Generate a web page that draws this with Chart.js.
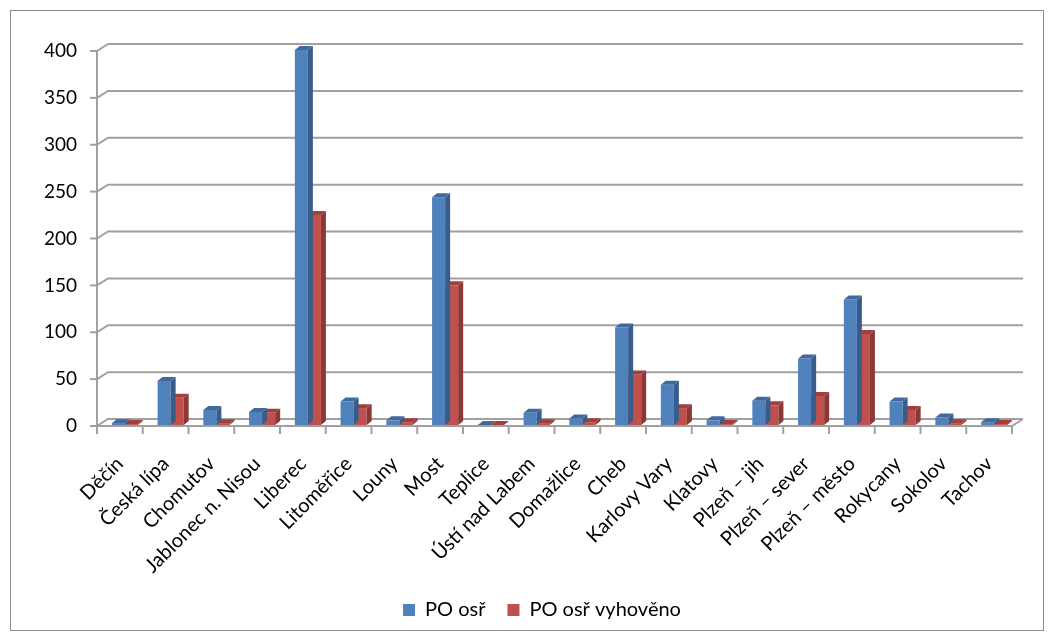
<!DOCTYPE html>
<html><head><meta charset="utf-8">
<script src="https://cdn.jsdelivr.net/npm/chart.js@4"></script>
<style>html,body{margin:0;padding:0;background:#fff}#w{width:1054px;height:639px}</style>
</head><body><div id="w"><canvas id="c" width="1054" height="639"></canvas></div>
<script>
const categories = ["Děčín","Česká lípa","Chomutov","Jablonec n. Nisou","Liberec","Litoměřice","Louny","Most","Teplice","Ústí nad Labem","Domažlice","Cheb","Karlovy Vary","Klatovy","Plzeň – jih","Plzeň – sever","Plzeň – město","Rokycany","Sokolov","Tachov"];
const poOsr =        [2, 47, 16, 14, 400, 25, 5, 243, 0, 13, 7, 104, 43, 5, 26, 71, 134, 25, 8, 3];
const poOsrVyhoveno =[1, 29, 2, 13, 224, 18, 3, 149, 0, 2, 3, 54, 18, 1, 21, 31, 97, 16, 2, 1];
const yTicks = [0,50,100,150,200,250,300,350,400];

const DX = 11, DY = 7;
const deco = {
  id:'deco',
  afterLayout(chart){
    const lg = chart.legend;
    if(lg){ lg.left += 36; lg.right += 36; }
  },
  beforeDraw(chart){
    const ctx = chart.ctx;
    ctx.save();
    ctx.fillStyle='#fff'; ctx.fillRect(0,0,chart.width,chart.height);
    ctx.strokeStyle='#8c8c8c'; ctx.lineWidth=1;
    ctx.strokeRect(10.5,10.5,1033,620);
    const y = chart.scales.y, x = chart.scales.x;
    const L = x.left, R = x.right;
    ctx.strokeStyle='#a0a0a0'; ctx.lineWidth=2;
    yTicks.forEach(v=>{
      const py = y.getPixelForValue(v);
      ctx.beginPath();
      ctx.moveTo(L, py); ctx.lineTo(L+DX, py-DY); ctx.lineTo(R+DX, py-DY);
      ctx.stroke();
    });
    const p0 = y.getPixelForValue(0);
    ctx.beginPath(); ctx.moveTo(L,p0); ctx.lineTo(R,p0); ctx.lineTo(R+DX,p0-DY); ctx.stroke();
    ctx.beginPath(); ctx.moveTo(L, y.getPixelForValue(400)); ctx.lineTo(L, p0); ctx.stroke();
    yTicks.forEach(v=>{ const py=y.getPixelForValue(v); ctx.beginPath(); ctx.moveTo(L-7,py); ctx.lineTo(L,py); ctx.stroke(); });
    const n = categories.length, cw = (R-L)/n;
    for(let i=0;i<=n;i++){ const px=L+i*cw; ctx.beginPath(); ctx.moveTo(px,p0); ctx.lineTo(px,p0+8); ctx.stroke(); }
    ctx.restore();
  },
  beforeDatasetsDraw(chart){ chart.ctx.save(); chart.ctx.translate(5,-1); },
  afterDatasetDraw(chart, args){
    const ctx = chart.ctx;
    const meta = args.meta;
    const side = args.index===0 ? '#385d8a' : '#8c3836';
    const top = args.index===0 ? '#41699b' : '#a23f3c';
    const d=5, e=4;
    meta.data.forEach(b=>{
      const {x,y,base,width} = b.getProps(['x','y','base','width'],true);
      const l=x-width/2, r=x+width/2;
      ctx.fillStyle=side;
      ctx.beginPath(); ctx.moveTo(r,y); ctx.lineTo(r+d,y-e); ctx.lineTo(r+d,base-e); ctx.lineTo(r,base); ctx.closePath(); ctx.fill();
      ctx.fillStyle=top;
      ctx.beginPath(); ctx.moveTo(l,y); ctx.lineTo(r,y); ctx.lineTo(r+d,y-e); ctx.lineTo(l+d,y-e); ctx.closePath(); ctx.fill();
    });
  },
  afterDatasetsDraw(chart){ chart.ctx.restore(); }
};

new Chart(document.getElementById('c'),{
  type:'bar',
  data:{labels:categories,datasets:[
    {label:'PO osř',data:poOsr,backgroundColor:'#4f81bd',categoryPercentage:0.57,barPercentage:1},
    {label:'PO osř vyhověno',data:poOsrVyhoveno,backgroundColor:'#c0504d',categoryPercentage:0.57,barPercentage:1}
  ]},
  options:{
    responsive:false,animation:false,
    layout:{padding:{left:0,top:51,right:42,bottom:9}},
    plugins:{
      legend:{position:'bottom',labels:{boxWidth:12,boxHeight:12,padding:22,font:{family:'Lato',size:20},color:'#000'}},
      tooltip:{enabled:false}
    },
    scales:{
      x:{grid:{display:false},border:{display:false},
        ticks:{maxRotation:45,minRotation:45,font:{family:'Lato',size:20},color:'#000',padding:18},
        afterFit(s){s.height=152;}},
      y:{min:0,max:400,grid:{display:false},border:{display:false},
        afterBuildTicks(s){s.ticks=yTicks.map(v=>({value:v}));},
        ticks:{font:{family:'Lato',size:19},color:'#000',padding:12},
        afterFit(s){s.width=97;}}
    }
  },
  plugins:[deco]
});
</script></body></html>
